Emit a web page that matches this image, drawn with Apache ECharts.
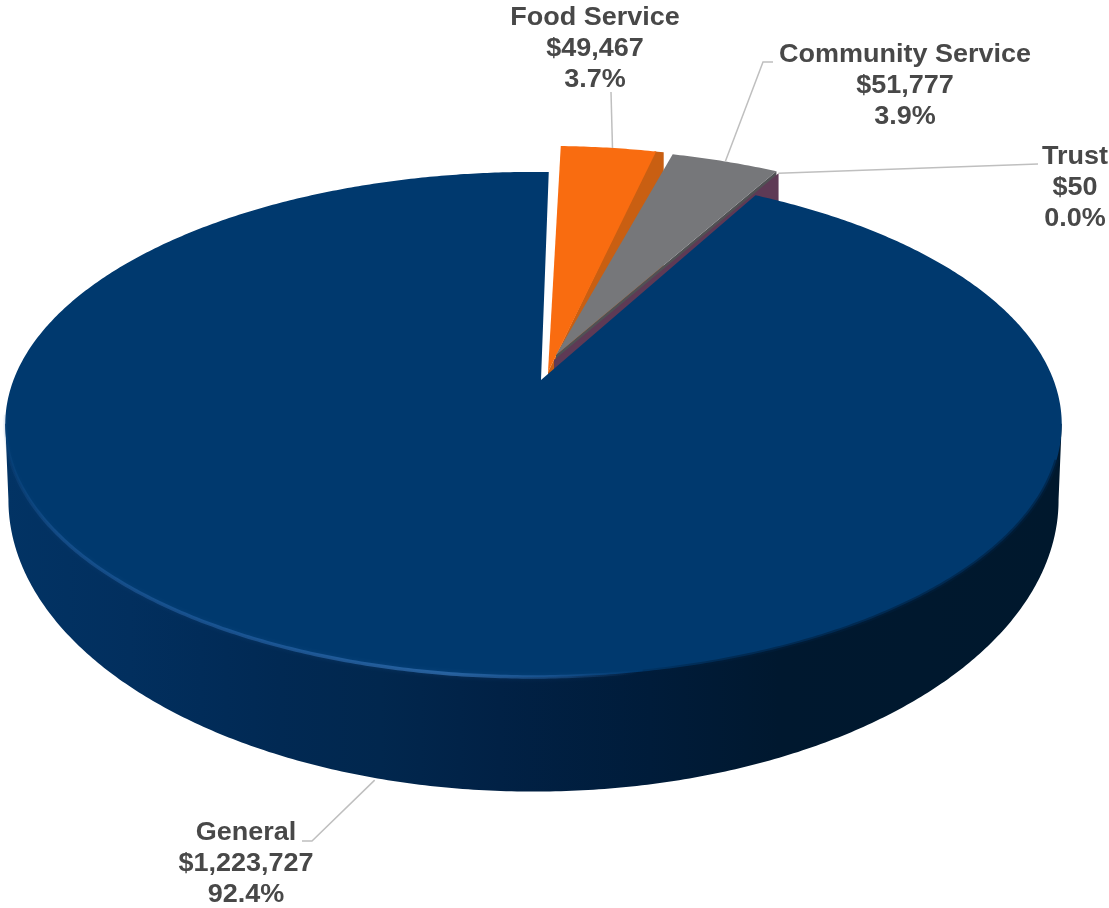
<!DOCTYPE html>
<html>
<head>
<meta charset="utf-8">
<style>
  html, body { margin: 0; padding: 0; background: #ffffff; }
  #chart { width: 1109px; height: 908px; }
</style>
<script src="https://cdn.jsdelivr.net/npm/echarts@6/dist/echarts.min.js"></script>
</head>
<body>
<div id="chart"></div>
<script>
// Fund balances
const fundNames = ['General', 'Food Service', 'Community Service', 'Trust'];
const fundValues = [1223727, 49467, 51777, 50];

// Face and side colours per fund
const faceColors = ['#00396e', '#f96c10', '#76777a', '#5e3a55'];
const sideColors = [null, '#c95f12', '#505154', '#5e3a55'];

// Pie shape: a tilted disc under a simple perspective projection
const firstAngle = 29.5;       // degrees clockwise from 12 o'clock
const disc = {
  cx: 533.5, cy: 380, radius: 520, tilt: 244.7, persp: 0.176,
  faceMidY: 424.5, baseMidY: 500, baseScaleX: 0.994, baseScaleY: 1.155
};
const sideDepth = 114;

// How far each slice is pulled out: rim shift, tip position and bevel width
const rimShift = [[0, 0], [12, -26], [21, -24], [23, -22]];
const tipPos = [[541, 380], [548, 372], [556, 355], [554, 360]];
const bevelDegrees = [0, 1, 0, 0];

// Label layout: text centre, first row and leader bend points
const labelRows = [
  { x: 246, y: 833, bends: [[312, 841], [302, 841]], anchor: 'base', nudge: [10, 4] },
  { x: 595, y: 18, bends: [[611, 92]], anchor: 'rim', nudge: [0, 0] },
  { x: 905, y: 55, bends: [[763, 62], [773, 62]], anchor: 'rim', nudge: [0, 0] },
  { x: 1075, y: 157, bends: [[1038, 164]], anchor: 'rim', nudge: [0, 0] }
];
const labelStyle = { font: 'bold 25px "Liberation Sans", Arial, sans-serif', color: '#484848', rowGap: 31, stretch: 1.08 };

const total = fundValues.reduce((a, b) => a + b, 0);
const spans = fundValues.map(v => v / total * 360);
const starts = spans.map((_, i) => firstAngle + spans.slice(0, i).reduce((a, b) => a + b, 0));

function rimPoint(deg) {
  const t = deg * Math.PI / 180;
  const u = Math.sin(t), v = Math.cos(t);
  const w = 1 + disc.persp * v;
  return [disc.cx + disc.radius * u / w, disc.cy - disc.tilt * v / w];
}
function basePoint(deg) {
  const p = rimPoint(deg);
  return [
    disc.cx + (p[0] - disc.cx) * disc.baseScaleX,
    disc.baseMidY + (p[1] - disc.faceMidY) * disc.baseScaleY
  ];
}
function arc(fn, from, to, shift) {
  const n = Math.max(2, Math.ceil(Math.abs(to - from) * 2));
  const pts = [];
  for (let i = 0; i <= n; i++) {
    const p = fn(from + (to - from) * i / n);
    pts.push([p[0] + shift[0], p[1] + shift[1]]);
  }
  return pts;
}
const down = (p, d) => [p[0], p[1] + d];
const sweep = (stops, x1, x2) => ({
  type: 'linear', global: true, x: x1, y: 0, x2: x2, y2: 0,
  colorStops: stops.map(s => ({ offset: s[0], color: s[1] }))
});

function renderSlice(params, api) {
  const i = params.dataIndex;
  const value = api.value(0);
  const from = starts[i], to = from + value / total * 360;
  const shift = rimShift[i], tip = tipPos[i];
  const children = [];

  if (i === 0) {
    // Front wall of the big slice, then its face and the lit and shaded rim
    const side = arc(basePoint, 100, 260, shift);
    children.push({
      type: 'polygon', z2: 40,
      shape: { points: [rimPoint(100)].concat(side, [rimPoint(260)]) },
      style: {
        fill: sweep([
          [0, '#023364'], [0.118, '#022f5e'], [0.185, '#012c59'], [0.26, '#012953'],
          [0.355, '#01274e'], [0.468, '#012145'], [0.61, '#001c3a'], [0.733, '#00182f'], [1, '#00182d']
        ], 5, 1062)
      }
    });
    children.push({
      type: 'polygon', z2: 41,
      shape: { points: [tip].concat(arc(rimPoint, from, to, shift)) },
      style: { fill: faceColors[i] }
    });
    children.push({
      type: 'polyline', z2: 42,
      shape: { points: arc(rimPoint, 262, 140, shift) },
      style: {
        fill: null, lineWidth: 3.5,
        stroke: sweep([
          [0, 'rgba(38,98,165,0.1)'], [0.05, 'rgba(38,98,165,0.45)'], [0.24, 'rgba(38,98,165,0.65)'],
          [0.42, 'rgba(48,108,172,0.8)'], [0.52, 'rgba(38,98,165,0.5)'], [0.6, 'rgba(38,98,165,0)'], [1, 'rgba(38,98,165,0)']
        ], 5, 1062),
        shadowBlur: 4, shadowColor: 'rgba(30,90,155,0.4)'
      }
    });
    children.push({
      type: 'polyline', z2: 42,
      shape: { points: arc(rimPoint, 170, 108, shift) },
      style: {
        fill: null, lineWidth: 4,
        stroke: sweep([
          [0, 'rgba(0,30,60,0)'], [0.56, 'rgba(0,30,60,0)'], [0.68, 'rgba(0,30,60,0.55)'], [1, 'rgba(0,30,60,0.6)']
        ], 5, 1062)
      }
    });
  } else {
    // Exposed cut wall on the clockwise edge, hidden below by later slices
    const bevel = bevelDegrees[i];
    const cutEnd = arc(rimPoint, to, to, shift)[0];
    const wallRim = bevel > 0 ? arc(rimPoint, to - bevel - 0.2, to, shift) : [cutEnd];
    children.push({
      type: 'polygon', z2: 10 + i * 5,
      shape: { points: [tip].concat(wallRim, [down(cutEnd, sideDepth), down(tip, sideDepth)]) },
      style: { fill: sideColors[i] }
    });
    if (value / total > 0.001) {
      children.push({
        type: 'polygon', z2: 12 + i * 5,
        shape: { points: [tip].concat(arc(rimPoint, from, to - bevel, shift)) },
        style: { fill: faceColors[i] }
      });
    }
  }

  // Leader line from the slice's mid point, and the three-row label
  const row = labelRows[i];
  const mid = from + (to - from) / 2;
  const start = row.anchor === 'base' ? basePoint(mid) : rimPoint(mid);
  children.push({
    type: 'polyline', z2: 50,
    shape: { points: [[start[0] + shift[0] + row.nudge[0], start[1] + shift[1] + row.nudge[1]]].concat(row.bends) },
    style: { fill: null, stroke: '#bfbfbf', lineWidth: 1.5 }
  });
  const rows = [
    fundNames[i],
    '$' + value.toLocaleString('en-US'),
    (value / total * 100).toFixed(1) + '%'
  ];
  rows.forEach((text, r) => {
    children.push({
      type: 'text', z2: 60,
      x: row.x, y: row.y + r * labelStyle.rowGap, scaleX: labelStyle.stretch,
      style: {
        text: text, x: 0, y: 0, font: labelStyle.font, fill: labelStyle.color,
        textAlign: 'center', textVerticalAlign: 'middle'
      }
    });
  });
  return { type: 'group', children: children };
}

const chart = echarts.init(document.getElementById('chart'), null, { renderer: 'canvas' });
chart.setOption({
  animation: false,
  backgroundColor: '#ffffff',
  series: [{
    type: 'custom',
    coordinateSystem: 'none',
    silent: true,
    clip: false,
    renderItem: renderSlice,
    data: fundValues.map((v, i) => ({ name: fundNames[i], value: [v] }))
  }]
});
</script>
</body>
</html>
